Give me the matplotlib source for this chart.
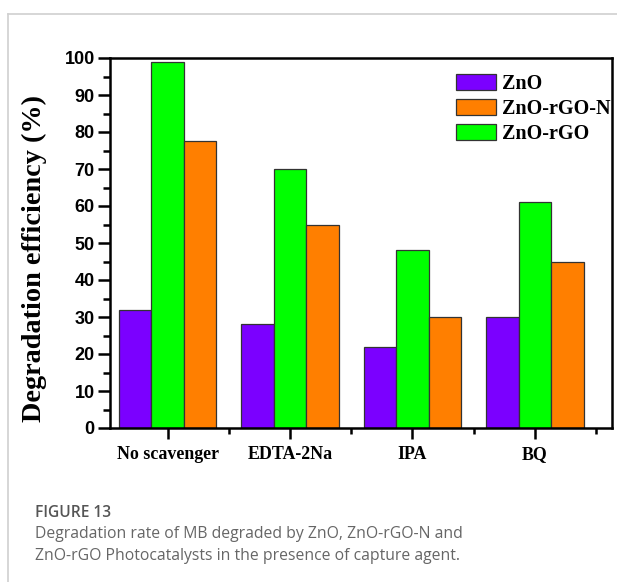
import numpy as np
import matplotlib
matplotlib.use("Agg")
import matplotlib.pyplot as plt
from matplotlib.patches import Patch
from matplotlib.lines import Line2D
from matplotlib.ticker import MultipleLocator, FixedLocator

# Data: degradation efficiency (%) for each scavenger condition
categories = ["No scavenger", "EDTA-2Na", "IPA", "BQ"]
zno = [32, 28, 22, 30]
zno_rgo = [99, 70, 48, 61]
zno_rgo_n = [77.5, 55, 30, 45]

c_zno = "#7B00FF"
c_rgo = "#00FF00"
c_rgon = "#FF7F00"

W, H = 617, 582
fig = plt.figure(figsize=(W / 100, H / 100), dpi=100)
fig.patch.set_facecolor("white")

# page frame lines
fig.add_artist(Line2D([8 / W, 1], [1 - 14 / H, 1 - 14 / H], color="#d0d0d0", lw=1.2))
fig.add_artist(Line2D([8 / W, 8 / W], [0, 1 - 14 / H], color="#d0d0d0", lw=1.2))

ax = fig.add_axes([110 / W, (H - 428) / H, (612 - 110) / W, (428 - 58) / H])

x = np.arange(len(categories))
bw = 0.266
kw = dict(width=bw, edgecolor="#333333", linewidth=0.9, zorder=2)
ax.bar(x - bw, zno, color=c_zno, **kw)
ax.bar(x, zno_rgo, color=c_rgo, **kw)
ax.bar(x + bw, zno_rgo_n, color=c_rgon, **kw)

ax.set_xlim(-0.47, 3.63)
ax.set_ylim(0, 100)

for s in ax.spines.values():
    s.set_linewidth(1.8)
    s.set_color("black")

ax.yaxis.set_major_locator(MultipleLocator(10))
ax.yaxis.set_minor_locator(MultipleLocator(5))
ax.set_xticks(x)
ax.xaxis.set_minor_locator(FixedLocator(np.arange(-0.5, 3.6, 1.0)))
ax.tick_params(axis="y", which="major", direction="out", length=9, width=1.8, pad=2)
ax.tick_params(axis="y", which="minor", direction="out", length=5, width=1.8)
ax.tick_params(axis="x", which="major", direction="out", length=8, width=1.8, pad=5)
ax.tick_params(axis="x", which="minor", direction="out", length=4, width=1.8)

ax.set_xticklabels(categories, fontfamily="Liberation Serif", fontweight="bold", fontsize=12.9)
ax.set_yticks(np.arange(0, 101, 10))
ax.set_yticklabels([str(v) for v in range(0, 101, 10)],
                   fontfamily="Liberation Sans", fontweight="bold", fontsize=13)

ax.set_ylabel("Degradation efficiency (%)", fontfamily="Liberation Serif",
              fontweight="bold", fontsize=20.3)
ax.yaxis.set_label_coords((47 - 110) / (612 - 110), (428 - 259) / (428 - 58))

handles = [Patch(facecolor=c_zno, edgecolor="#333333", linewidth=0.9, label="ZnO"),
           Patch(facecolor=c_rgon, edgecolor="#333333", linewidth=0.9, label="ZnO-rGO-N"),
           Patch(facecolor=c_rgo, edgecolor="#333333", linewidth=0.9, label="ZnO-rGO")]
ax.legend(handles=handles, loc="upper left",
          bbox_to_anchor=((456 - 110) / (612 - 110), 1 - (74 - 58) / (428 - 58)),
          frameon=False, handlelength=2.0, handleheight=0.82, handletextpad=0.3,
          labelspacing=0.25, borderaxespad=0, borderpad=0,
          prop=dict(family="Liberation Serif", weight="bold", size=14.5))

# caption
fig.text(35 / W, 1 - 513 / H, "FIGURE 13", fontfamily="Open Sans", fontweight="semibold",
         fontsize=11.2, color="#555555", va="center", ha="left")
fig.text(35 / W, 1 - 534 / H, "Degradation rate of MB degraded by ZnO, ZnO-rGO-N and",
         fontfamily="Open Sans", fontsize=11.35, color="#666666", va="center", ha="left")
fig.text(35 / W, 1 - 556 / H, "ZnO-rGO Photocatalysts in the presence of capture agent.",
         fontfamily="Open Sans", fontsize=11.35, color="#666666", va="center", ha="left")

fig.savefig("out.png", dpi=100, facecolor="white")
